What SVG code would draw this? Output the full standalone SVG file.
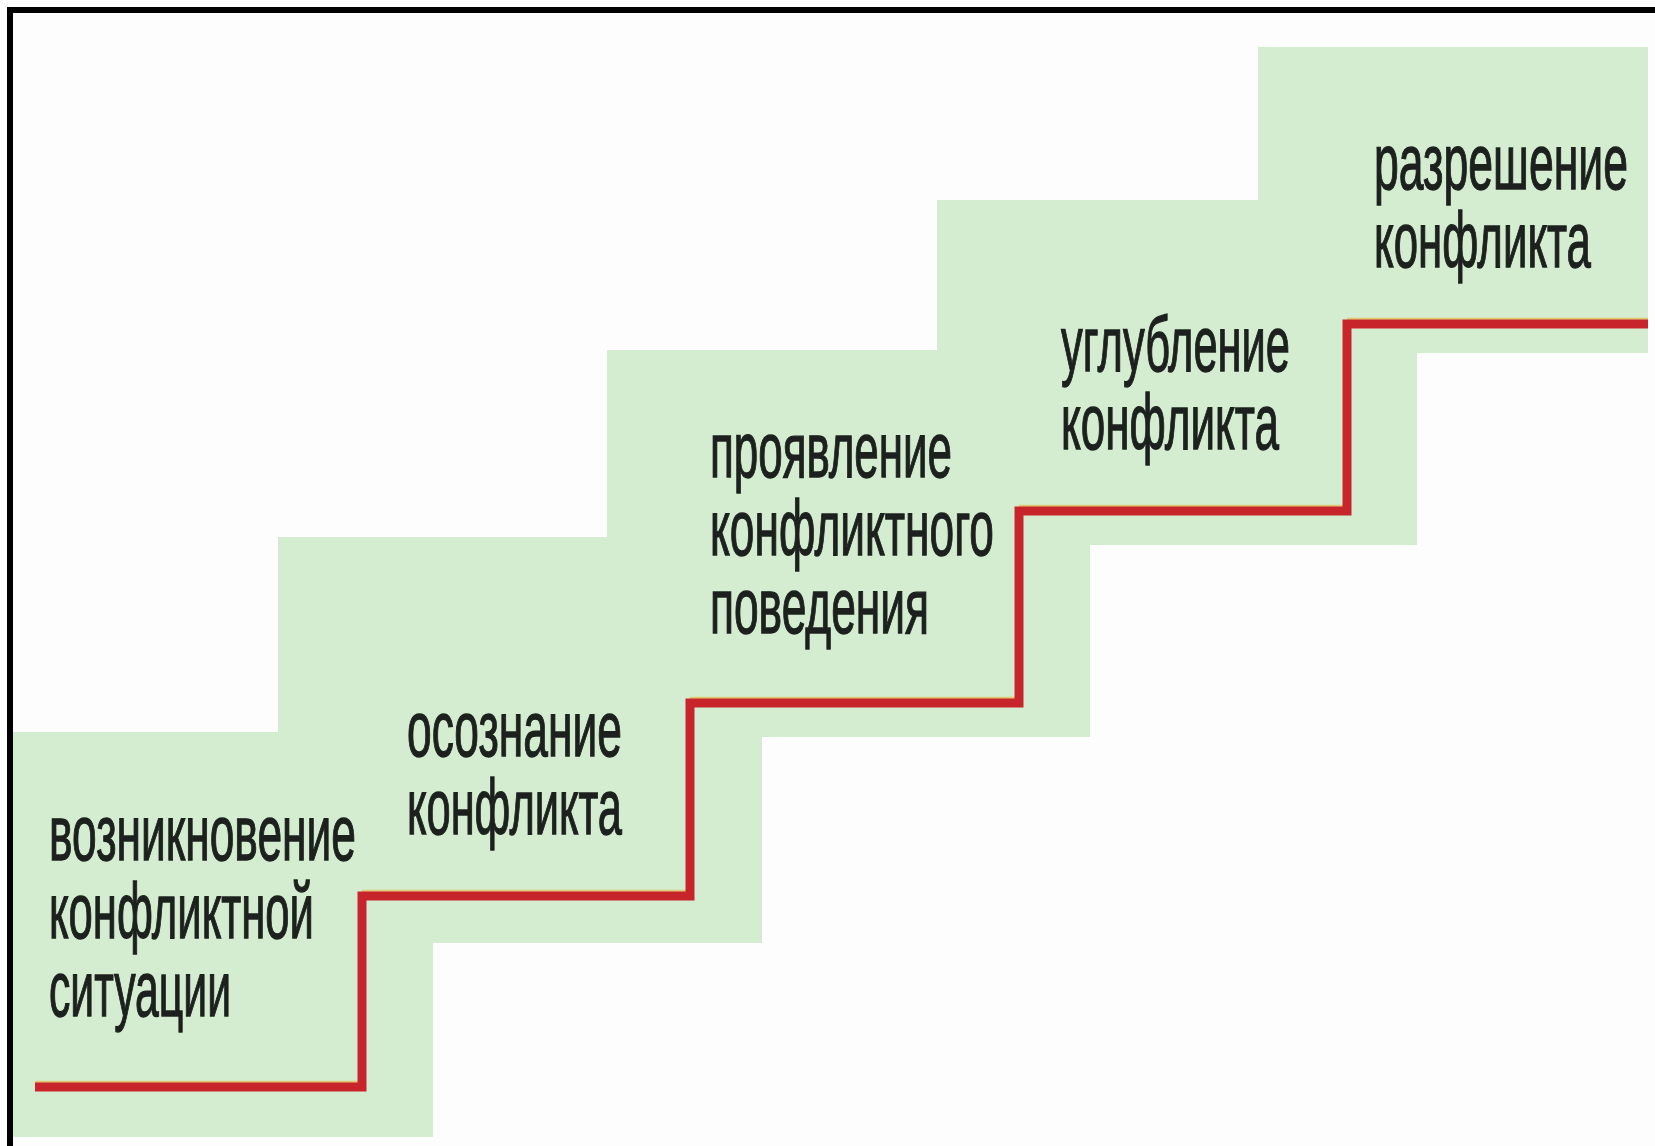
<svg xmlns="http://www.w3.org/2000/svg" width="1655" height="1146" viewBox="0 0 1655 1146">
  <style>
    .blk { fill: #d4ecd0; shape-rendering: crispEdges; }
    .lbl { font-family: "Liberation Sans", Arial, sans-serif; font-size: 78px; fill: #1c211e; stroke: #1c211e; stroke-width: 1.3; }
    .step { fill: none; stroke: #c8242c; stroke-width: 9; stroke-linejoin: miter; stroke-linecap: butt; }
    .fringe { fill: none; stroke: #e6bf55; stroke-width: 2.5; opacity: 0.75; }
  </style>
  <rect x="0" y="0" width="1655" height="1146" fill="#fdfdfd"/>

  <g id="stage1">
    <path class="blk" d="M13,732 H433 V1137 H13 Z"/>
    <text class="lbl" x="49" y="860" textLength="307" lengthAdjust="spacingAndGlyphs">возникновение</text>
    <text class="lbl" x="49" y="938" textLength="265" lengthAdjust="spacingAndGlyphs">конфликтной</text>
    <text class="lbl" x="49" y="1016" textLength="182" lengthAdjust="spacingAndGlyphs">ситуации</text>
  </g>
  <g id="stage2">
    <path class="blk" d="M278,537 H762 V943 H433 V732 H278 Z"/>
    <text class="lbl" x="407" y="756" textLength="215" lengthAdjust="spacingAndGlyphs">осознание</text>
    <text class="lbl" x="407" y="834" textLength="215" lengthAdjust="spacingAndGlyphs">конфликта</text>
  </g>
  <g id="stage3">
    <path class="blk" d="M607,350 H1090 V737 H762 V537 H607 Z"/>
    <text class="lbl" x="710" y="477" textLength="242" lengthAdjust="spacingAndGlyphs">проявление</text>
    <text class="lbl" x="710" y="555" textLength="284" lengthAdjust="spacingAndGlyphs">конфликтного</text>
    <text class="lbl" x="710" y="633" textLength="219" lengthAdjust="spacingAndGlyphs">поведения</text>
  </g>
  <g id="stage4">
    <path class="blk" d="M937,200 H1417 V545 H1090 V350 H937 Z"/>
    <text class="lbl" x="1061" y="371" textLength="229" lengthAdjust="spacingAndGlyphs">углубление</text>
    <text class="lbl" x="1061" y="449" textLength="218" lengthAdjust="spacingAndGlyphs">конфликта</text>
  </g>
  <g id="stage5">
    <path class="blk" d="M1258,47 H1648 V353 H1417 V200 H1258 Z"/>
    <text class="lbl" x="1374" y="189" textLength="254" lengthAdjust="spacingAndGlyphs">разрешение</text>
    <text class="lbl" x="1374" y="267" textLength="217" lengthAdjust="spacingAndGlyphs">конфликта</text>
  </g>

  <g id="connectors">
    <path class="fringe" d="M35,1082 H362 M362,891 H690 M690,698 H1019 M1019,506 H1347 M1347,319 H1648"/>
    <path class="step" d="M35,1087 H362 V896 H690 V703 H1019 V511 H1347 V324 H1648"/>
  </g>

  <g id="frame">
    <rect x="7" y="7" width="1648" height="6" fill="#000"/>
    <rect x="7" y="7" width="6" height="1139" fill="#000"/>
  </g>
</svg>
